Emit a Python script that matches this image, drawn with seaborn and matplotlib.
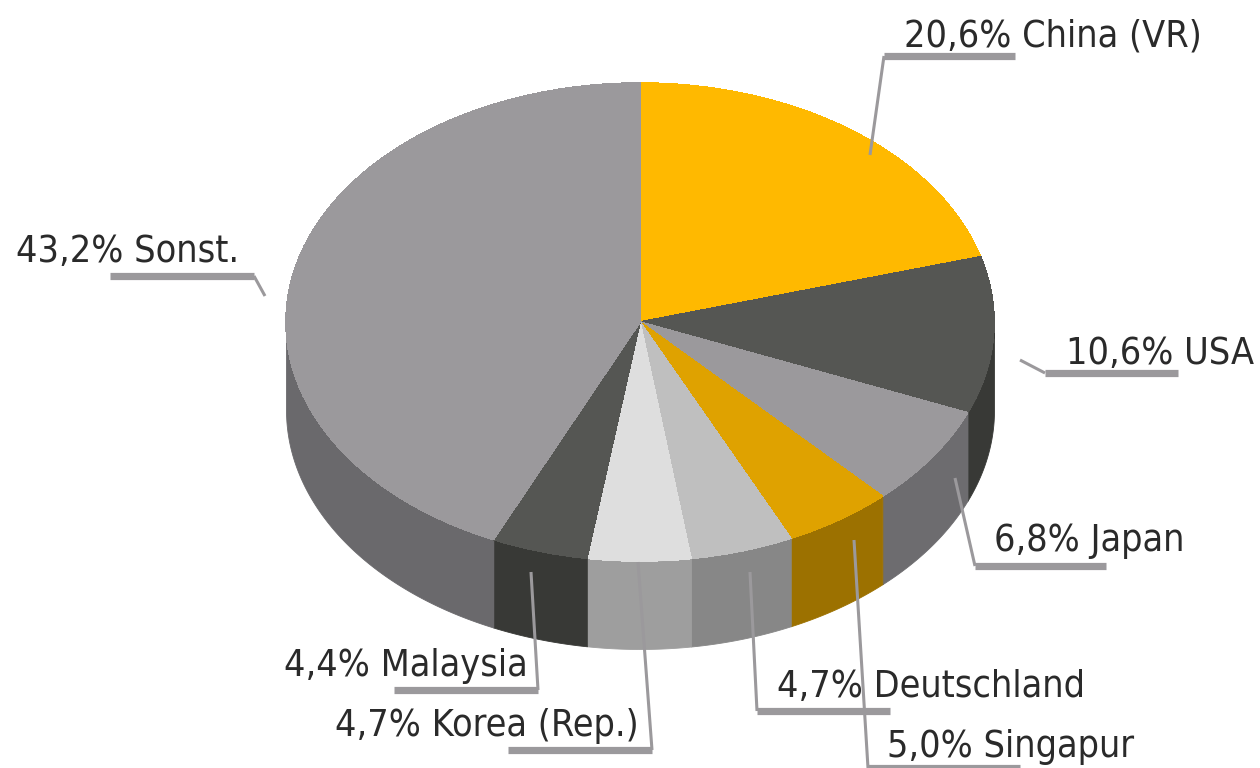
import numpy as np
import matplotlib
matplotlib.use("Agg")
import matplotlib.pyplot as plt
import seaborn as sns

labels = ["20,6% China (VR)", "10,6% USA", "6,8% Japan", "5,0% Singapur", "4,7% Deutschland",
          "4,7% Korea (Rep.)", "4,4% Malaysia", "43,2% Sonst."]
values = [20.6, 10.6, 6.8, 5.0, 4.7, 4.7, 4.4, 43.2]
top_colors = ["#ffb900", "#555653", "#9b999c", "#dfa200", "#bfbfbf", "#dedede", "#555653", "#9b999c"]
side_colors = ["#a07400", "#383936", "#6d6c6f", "#9c7100", "#878787", "#9e9e9e", "#383936", "#6a696c"]

# label start and baseline, then leader points, in picture pixels
label_pos = [(904, 46), (1066, 364), (994, 551), (887, 757), (777, 697), (335, 736), (284, 676), (16, 262)]
leaders = [
    [(870, 155), (884, 56), (1015, 56)],
    [(1020, 360), (1045, 373), (1178, 373)],
    [(955, 478), (975, 566), (1106, 566)],
    [(854, 540), (868, 768), (1020, 768)],
    [(750, 572), (757, 711), (890, 711)],
    [(638, 562), (652, 750), (508, 750)],
    [(531, 572), (538, 690), (394, 690)],
    [(265, 296), (254, 276), (110, 276)],
]

cx, cy, rx, ry, depth = 640, 322, 354, 239, 88
squash = ry / rx

sns.set_theme(style="white")
plt.rcParams["font.family"] = "DejaVu Sans"

fig = plt.figure(figsize=(12.6, 7.68), dpi=100)
ax = fig.add_axes([0, 0, 1, 1])

# pie is drawn round in data units, the y limits squash it to an ellipse
center = (cx, (768 - cy) / squash)
wall = depth / squash
angles = 90 - np.cumsum([0] + values) / np.sum(values) * 360
for i in range(len(values)):
    a1, a2 = angles[i + 1], angles[i]
    # only the part facing the viewer has a wall
    vis = np.linspace(a1, a2, 200)
    vis = vis[np.sin(np.radians(vis)) <= 0.0]
    if len(vis) == 0:
        continue
    xs = center[0] + rx * np.cos(np.radians(vis))
    ys = center[1] + rx * np.sin(np.radians(vis))
    ax.fill_between(xs, ys - wall, ys, color=side_colors[i], lw=0.6, antialiased=False)

wedges, _ = ax.pie(values, startangle=90, counterclock=False, colors=top_colors, center=center, radius=rx,
                   wedgeprops={"antialiased": False}, frame=True)
for w, c in zip(wedges, top_colors):
    w.set_edgecolor(c)
    w.set_linewidth(0.5)
ax.set_aspect("auto")
ax.set_xlim(0, 1260)
ax.set_ylim(0, 768 / squash)
ax.axis("off")

# overlay in pixel units for labels and leader lines
ov = fig.add_axes([0, 0, 1, 1])
ov.set_xlim(0, 1260)
ov.set_ylim(768, 0)
ov.axis("off")
for lab, pos, pts in zip(labels, label_pos, leaders):
    ov.plot([pts[0][0], pts[1][0]], [pts[0][1], pts[1][1]], color="#9b999c", lw=2.2, solid_capstyle="butt")
    ov.plot([pts[1][0], pts[2][0]], [pts[1][1], pts[2][1]], color="#9b999c", lw=5.2, solid_capstyle="butt")
    ov.text(pos[0], pos[1], lab, fontsize=27, color="#2a2a2a", va="baseline", ha="left", stretch="condensed",
            family="DejaVu Sans")

fig.savefig("out.png", dpi=100)
